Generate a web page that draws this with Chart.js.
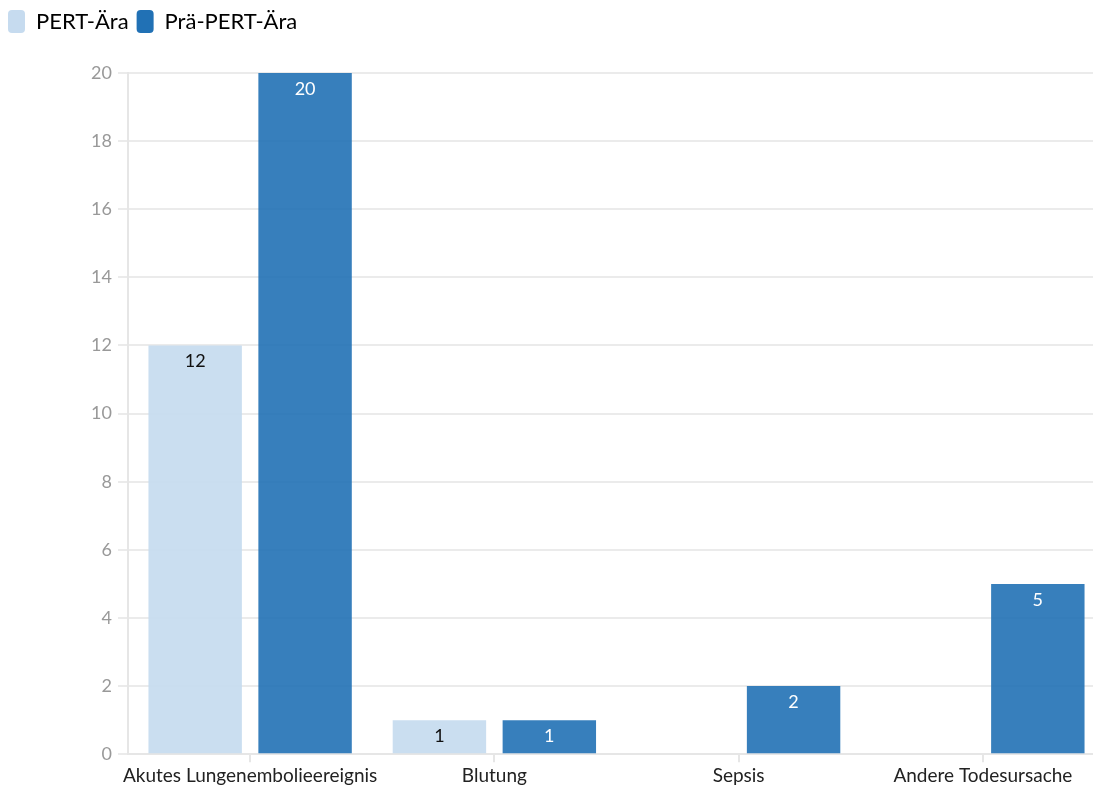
<!DOCTYPE html>
<html>
<head>
<meta charset="utf-8">
<script src="https://cdn.jsdelivr.net/npm/chart.js@4.4.1/dist/chart.umd.min.js"></script>
<style>
  html, body { margin: 0; padding: 0; background: #fff; overflow: hidden; }
  #wrap { position: absolute; left: 0; top: 0; width: 1105px; height: 789px; }
</style>
</head>
<body>
<div id="wrap"><canvas id="myChart"></canvas></div>
<script>
// data
const categories = ['Akutes Lungenembolieereignis', 'Blutung', 'Sepsis', 'Andere Todesursache'];
const seriesNames = ['PERT-Ära', 'Prä-PERT-Ära'];
const pertValues = [12, 1, null, null];
const praePertValues = [20, 1, 2, 5];
const yTicks = [0, 2, 4, 6, 8, 10, 12, 14, 16, 18, 20];

const fontFamily = 'Lato, "Noto Sans", sans-serif';
const legendColors = ['#c6dbef', '#2171b5'];

// draws the numbers at the top inside each bar
const valueLabels = {
  id: 'valueLabels',
  afterDatasetsDraw(chart) {
    const c = chart.ctx;
    c.save();
    c.font = '18px ' + fontFamily;
    c.textAlign = 'center';
    c.textBaseline = 'middle';
    chart.data.datasets.forEach(function (ds, i) {
      const meta = chart.getDatasetMeta(i);
      meta.data.forEach(function (bar, j) {
        const v = ds.data[j];
        if (v == null) return;
        c.fillStyle = i === 0 ? '#111' : '#fff';
        c.fillText(String(v), bar.x, bar.y + 16);
      });
    });
    c.restore();
  }
};

// extra room between legend and plot
const legendGap = {
  id: 'legendGap',
  beforeInit(chart) {
    const fit = chart.legend.fit;
    chart.legend.fit = function () {
      fit.bind(chart.legend)();
      this.height += 30;
    };
  }
};

const ctx = document.getElementById('myChart');
const myChart = new Chart(ctx, {
  type: 'bar',
  data: {
    labels: categories,
    datasets: [{
      label: seriesNames[0],
      data: pertValues,
      backgroundColor: 'rgba(198, 219, 239, 0.92)',
      borderWidth: 0
    }, {
      label: seriesNames[1],
      data: praePertValues,
      backgroundColor: 'rgba(33, 113, 181, 0.9)',
      borderWidth: 0
    }]
  },
  options: {
    responsive: true,
    maintainAspectRatio: false,
    animation: false,
    categoryPercentage: 0.9,
    barPercentage: 0.85,
    layout: { padding: { left: 0, right: 0, top: 2, bottom: 0 } },
    scales: {
      x: {
        grid: {
          display: true,
          drawOnChartArea: false,
          offset: false,
          tickLength: 8,
          color: '#e6e6e6',
          lineWidth: 2
        },
        border: { color: '#e6e6e6', width: 2 },
        ticks: {
          color: '#222',
          font: { family: fontFamily, size: 19 },
          padding: 2,
          maxRotation: 0,
          autoSkip: false
        }
      },
      y: {
        min: 0,
        max: 20,
        afterBuildTicks(axis) {
          axis.ticks = yTicks.map(function (v) { return { value: v }; });
        },
        afterFit(axis) {
          axis.width = 128;
        },
        grid: {
          color: '#ebebeb',
          lineWidth: 2,
          tickLength: 10
        },
        border: { color: '#e6e6e6', width: 2 },
        ticks: {
          color: '#999',
          font: { family: fontFamily, size: 18 },
          padding: 6
        }
      }
    },
    plugins: {
      legend: {
        display: true,
        position: 'top',
        align: 'start',
        labels: {
          boxWidth: 17,
          boxHeight: 23,
          useBorderRadius: true,
          borderRadius: 4,
          padding: 8,
          color: '#333',
          font: { family: fontFamily, size: 22 },
          generateLabels(chart) {
            return chart.data.datasets.map(function (ds, i) {
              return {
                text: ds.label,
                fillStyle: legendColors[i],
                strokeStyle: legendColors[i],
                lineWidth: 0,
                datasetIndex: i,
                borderRadius: 4
              };
            });
          }
        }
      },
      tooltip: { enabled: false }
    }
  },
  plugins: [valueLabels, legendGap]
});
</script>
</body>
</html>
